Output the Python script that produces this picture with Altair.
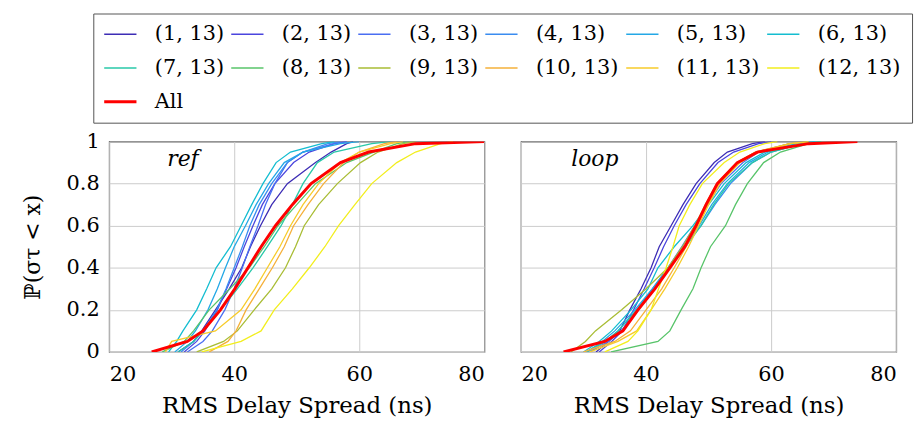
import altair as alt
import pandas as pd

# cumulative probability levels at which each empirical CDF is read
P_LEVELS = [0, 0.05, 0.1, 0.2, 0.3, 0.4, 0.5, 0.6, 0.7, 0.8, 0.9, 0.95, 0.99, 1.0]

SERIES = [f"({i}, 13)" for i in range(1, 13)] + ["All"]
COLORS = ["#3d2db5", "#4b45de", "#4a6ef2", "#3a8cf0", "#24a8e6", "#14bdd0",
          "#28c8a8", "#58c46a", "#a9bd35", "#f5b03a", "#f7cb2a", "#f2ee1e", "#ff0000"]

# ---- panel "ref": RMS delay spread (ns) at each probability level ----
ref_1 = [31, 33.5, 34.8, 37.0, 39.2, 41.2, 42.6, 44.2, 46, 48.5, 53, 55.5, 58, 59]
ref_2 = [32, 34, 35.3, 37.3, 38.8, 40.3, 41.6, 43, 44.5, 46.5, 49.5, 52, 56, 58]
ref_3 = [32.5, 35, 36.5, 38.5, 40, 41.3, 42.5, 43.8, 45, 46.5, 48.5, 51, 56, 58]
ref_4 = [31.5, 33.5, 35, 37.2, 38.7, 40, 41.3, 42.5, 44, 46, 48.5, 51, 55, 57]
ref_5 = [30.5, 32.5, 33.8, 35.8, 37.3, 38.6, 40, 41.8, 43.5, 45.5, 48, 51, 57, 60]
ref_6 = [29.5, 30.8, 31.8, 34, 35.6, 37.1, 39.4, 41.1, 42.8, 44.6, 46.7, 49, 54, 56]
ref_7 = [31, 33.5, 35, 37.8, 40.5, 43, 45.3, 47.5, 49.3, 51, 53.3, 56, 62, 65]
ref_8 = [28.5, 32, 33.5, 36, 39.3, 42.4, 44.8, 47, 50, 53, 58, 62.3, 66, 68]
ref_9 = [34, 38.3, 40.5, 43.2, 46, 48.2, 49.8, 51.2, 53.5, 56.5, 60.2, 63, 67, 69]
ref_10 = [36, 39, 40.3, 41.9, 44, 46.1, 48, 49.5, 51.8, 54.3, 57.5, 60, 64, 66]
ref_11 = [29, 30, 37, 41.1, 43.3, 45.3, 47.3, 49, 51, 53.5, 57, 60, 65, 67]
ref_12 = [34.8, 41.1, 44.3, 46.4, 49.3, 52, 54.5, 56.7, 59.3, 62, 66, 69, 73, 75]
ref_all = [26.8, 32.5, 35.0, 37.8, 40.1, 42.2, 44.3, 46.6, 49.3, 52.3, 57.0, 61.5, 69, 80]

# ---- panel "loop" ----
loop_1 = [32, 34, 35.8, 37.4, 39.2, 40.8, 42.1, 44, 45.9, 48, 50.9, 53, 57, 59]
loop_2 = [32.5, 34.5, 36.2, 38, 39.7, 41.3, 42.8, 44.5, 46.4, 48.6, 51.5, 54, 58, 60]
loop_3 = [31, 34, 36, 38.8, 41.2, 43.5, 45.7, 47.8, 49.8, 52, 55.5, 58, 63, 66]
loop_4 = [30.5, 33.5, 35.5, 38.5, 41, 43.5, 46, 48.8, 51, 53.5, 57, 60, 65, 68]
loop_5 = [30.5, 33, 35, 38.2, 41, 43.5, 46.2, 48.5, 50.5, 53, 56.5, 59.5, 64, 67]
loop_6 = [30, 32.5, 34.5, 37.6, 40.3, 41.9, 44.5, 47.5, 50, 52.5, 56, 59, 64, 67]
loop_7 = [30.5, 33.5, 35.5, 38.5, 41.3, 43.6, 46.3, 48.8, 50.8, 53.2, 57, 60, 65, 68]
loop_8 = [34.4, 41.9, 43.8, 45.6, 47.5, 48.8, 50.3, 52.7, 54.3, 56.2, 58.8, 61.5, 66, 68]
loop_9 = [28, 30.3, 31.9, 36.1, 40, 43.5, 45.8, 47.8, 49.5, 51.3, 54.5, 57.5, 63, 66]
loop_10 = [30, 35, 37.5, 40, 42.5, 44.5, 46.4, 48.2, 49.8, 51.6, 54.6, 57.5, 63, 66]
loop_11 = [31, 35.5, 38.5, 40.8, 43, 45, 46.8, 48.4, 50, 51.8, 55, 58, 63, 66]
loop_12 = [33.4, 37.1, 38.7, 40.8, 42, 43.2, 44.3, 45.3, 47, 49, 52.5, 55, 59, 61]
loop_all = [26.8, 33.4, 36.3, 38.7, 41.4, 43.8, 46.2, 48, 49.6, 51.4, 54.6, 57.8, 66, 73.8]

REF_CURVES = [ref_1, ref_2, ref_3, ref_4, ref_5, ref_6, ref_7, ref_8, ref_9,
              ref_10, ref_11, ref_12, ref_all]
LOOP_CURVES = [loop_1, loop_2, loop_3, loop_4, loop_5, loop_6, loop_7, loop_8,
               loop_9, loop_10, loop_11, loop_12, loop_all]

X_TICKS = [20, 40, 60, 80]
Y_TICKS = [0, 0.2, 0.4, 0.6, 0.8, 1]

FONT = "DejaVu Serif"


def make_df(curves):
    rows = []
    for name, xs in zip(SERIES, curves):
        for k, (xv, pv) in enumerate(zip(xs, P_LEVELS)):
            rows.append({"series": name, "x": xv, "p": pv, "k": k})
    return pd.DataFrame(rows)


legend = alt.Legend(
    title=None, orient="none", legendX=-16, legendY=-129, columns=6,
    direction="horizontal",
    symbolType="stroke", symbolSize=1936,
    symbolStrokeWidth={"expr": "datum.value === 'All' ? 3 : 1.5"}, clipHeight=20,
    labelFont=FONT, labelFontSize=21, labelColor="black", labelOffset=30,
    columnPadding=7, rowPadding=13, padding=11, strokeColor="#555555",
    fillColor="white", labelLimit=300, gridAlign="each",
)

color = alt.Color("series:N", scale=alt.Scale(domain=SERIES, range=COLORS), legend=legend)


def panel(curves, label, show_y):
    d = make_df(curves)
    xaxis = alt.Axis(values=X_TICKS, title="RMS Delay Spread (ns)", grid=True,
                     ticks=False, domain=False, labelPadding=12, titlePadding=10,
                     titleFontSize=23, format="d")
    if show_y:
        yaxis = alt.Axis(values=Y_TICKS, title="ℙ(στ < x)", grid=True, ticks=False,
                         domain=False, labelPadding=10, titlePadding=22, format="~g")
    else:
        yaxis = alt.Axis(values=Y_TICKS, title=None, grid=True, ticks=False,
                         domain=False, labels=False)
    x = alt.X("x:Q", scale=alt.Scale(domain=[20, 80], nice=False, zero=False), axis=xaxis)
    y = alt.Y("p:Q", scale=alt.Scale(domain=[0, 1], nice=False), axis=yaxis)
    lines = alt.Chart(d[d.series != "All"]).mark_line(strokeWidth=1.3, clip=True).encode(
        x=x, y=y, color=color, order="k:Q")
    all_line = alt.Chart(d[d.series == "All"]).mark_line(strokeWidth=3, clip=True).encode(
        x=x, y=y, color=color, order="k:Q")
    txt = alt.Chart(pd.DataFrame({"t": [label]})).mark_text(
        font=FONT, fontStyle="italic", fontSize=22, align="center", baseline="middle",
        color="black").encode(x=alt.datum(31.8), y=alt.datum(0.915), text="t:N")
    return alt.layer(lines, all_line, txt).properties(width=378, height=212)


chart = alt.hconcat(
    panel(REF_CURVES, "ref", True),
    panel(LOOP_CURVES, "loop", False),
    spacing=37, bounds="flush",
).configure_view(
    stroke="#333333", strokeWidth=1.2
).configure_axis(
    gridColor="#cccccc", gridWidth=1, labelFont=FONT, labelFontSize=21,
    titleFont=FONT, titleFontSize=22, titleFontWeight="normal",
    labelColor="black", titleColor="black"
).properties(
    padding={"left": 21, "top": 11, "right": 5, "bottom": 5}
)

chart.save("out.html", embed_options={"renderer": "svg", "actions": False})
